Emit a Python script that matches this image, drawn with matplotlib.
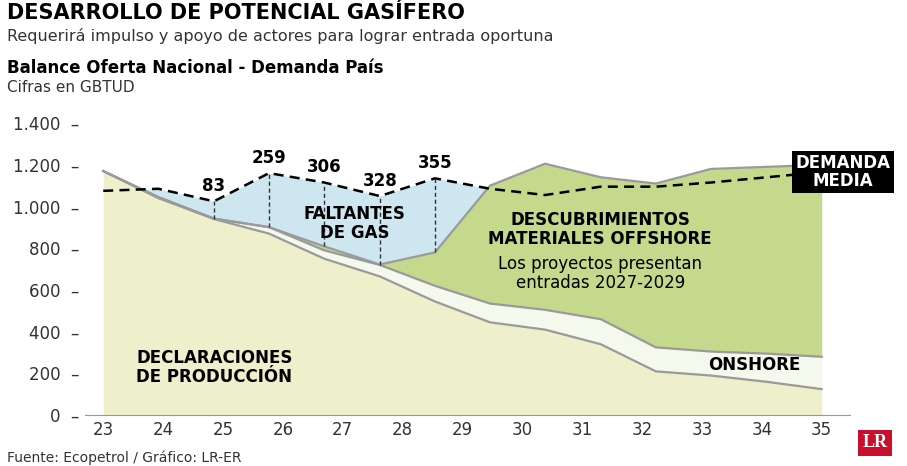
import matplotlib

matplotlib.use("Agg")
import matplotlib.pyplot as plt

# 14 data points spread evenly from 2023 to 2035
x = [23.0, 23.92, 24.85, 25.77, 26.69, 27.62, 28.54, 29.46, 30.38, 31.31, 32.23, 33.15, 34.08, 35.0]
demand = [1075, 1085, 1025, 1160, 1115, 1050, 1135, 1085, 1055, 1095, 1095, 1115, 1140, 1165]
total_supply = [1170, 1045, 942, 901, 809, 722, 780, 1100, 1205, 1140, 1110, 1180, 1190, 1200]
onshore_top = [1170, 1045, 942, 901, 790, 720, 620, 535, 505, 460, 325, 305, 295, 280]
declarations = [1170, 1040, 940, 870, 750, 665, 545, 445, 410, 340, 210, 190, 160, 125]
gap_idx = [2, 3, 4, 5, 6]
gap_labels = ["83", "259", "306", "328", "355"]
year_ticks = list(range(23, 36))
y_ticks = [0, 200, 400, 600, 800, 1000, 1200, 1400]
y_labels = ["0", "200", "400", "600", "800", "1.000", "1.200", "1.400"]

fig = plt.figure(figsize=(9.07, 4.66), dpi=100)
ax = fig.add_axes([0.094, 0.109, 0.843, 0.627])

edge = "#9a9a9a"
ax.fill_between(x, 0, declarations, color="#eeefcb", lw=0)
ax.fill_between(x, declarations, onshore_top, color="#f5f8ec", lw=0)
ax.fill_between(x, onshore_top, total_supply, color="#c4d98b", lw=0)
ax.fill_between(x, total_supply, demand, where=[d > s for d, s in zip(demand, total_supply)],
                interpolate=True, color="#cde6f0", lw=0)
ax.plot(x, declarations, color=edge, lw=1.6)
ax.plot(x, onshore_top, color=edge, lw=1.6)
ax.plot(x, total_supply, color=edge, lw=1.6)
ax.plot(x, demand, color="black", lw=1.8, ls=(0, (4, 2.5)))

for i, lab in zip(gap_idx, gap_labels):
    ax.plot([x[i], x[i]], [total_supply[i], demand[i]], color="#333333", lw=1, ls=(0, (3, 2)))
    ax.text(x[i], demand[i] + 30, lab, ha="center", va="bottom", fontsize=12, fontweight="bold")

ax.text(27.2, 920, "FALTANTES\nDE GAS", ha="center", va="center", fontsize=12,
        fontweight="bold", linespacing=1.1)
ax.text(31.3, 890, "DESCUBRIMIENTOS\nMATERIALES OFFSHORE", ha="center", va="center",
        fontsize=12, fontweight="bold", linespacing=1.1)
ax.text(31.3, 680, "Los proyectos presentan\nentradas 2027-2029", ha="center", va="center",
        fontsize=12, linespacing=1.1)
ax.text(23.55, 230, "DECLARACIONES\nDE PRODUCCIÓN", ha="left", va="center", fontsize=12,
        fontweight="bold", linespacing=1.1)
ax.text(33.1, 240, "ONSHORE", ha="left", va="center", fontsize=12, fontweight="bold")
ax.text(35.35, 1165, "DEMANDA\nMEDIA", ha="center", va="center", fontsize=12, fontweight="bold",
        color="white", linespacing=1.0, bbox=dict(boxstyle="square,pad=0.2", fc="black", ec="none"))

ax.set_xlim(22.7, 35.47)
ax.set_ylim(0, 1400)
ax.set_xticks(year_ticks)
ax.set_xticklabels([str(v) for v in year_ticks], fontsize=12, color="#333333")
ax.set_yticks(y_ticks)
ax.set_yticklabels([lab + "  –" for lab in y_labels], fontsize=12, color="#333333")
ax.tick_params(length=0, pad=4)
for side in ["top", "right", "left"]:
    ax.spines[side].set_visible(False)
ax.spines["bottom"].set_color("#999999")
ax.set_facecolor("none")

fig.text(0.008, 0.972, "DESARROLLO DE POTENCIAL GASÍFERO", fontsize=15, fontweight="bold", va="center")
fig.text(0.008, 0.922, "Requerirá impulso y apoyo de actores para lograr entrada oportuna",
         fontsize=11.5, color="#333333", va="center")
fig.text(0.008, 0.855, "Balance Oferta Nacional - Demanda País", fontsize=12, fontweight="bold", va="center")
fig.text(0.008, 0.812, "Cifras en GBTUD", fontsize=11, color="#333333", va="center")
fig.text(0.008, 0.018, "Fuente: Ecopetrol / Gráfico: LR-ER", fontsize=10, color="#333333", va="center")
fig.text(0.965, 0.05, "LR", fontsize=13, fontweight="bold", color="white", ha="center", va="center",
         family="Liberation Serif", bbox=dict(boxstyle="square,pad=0.25", fc="#c8102e", ec="none"))

fig.savefig("out.png", dpi=100)
